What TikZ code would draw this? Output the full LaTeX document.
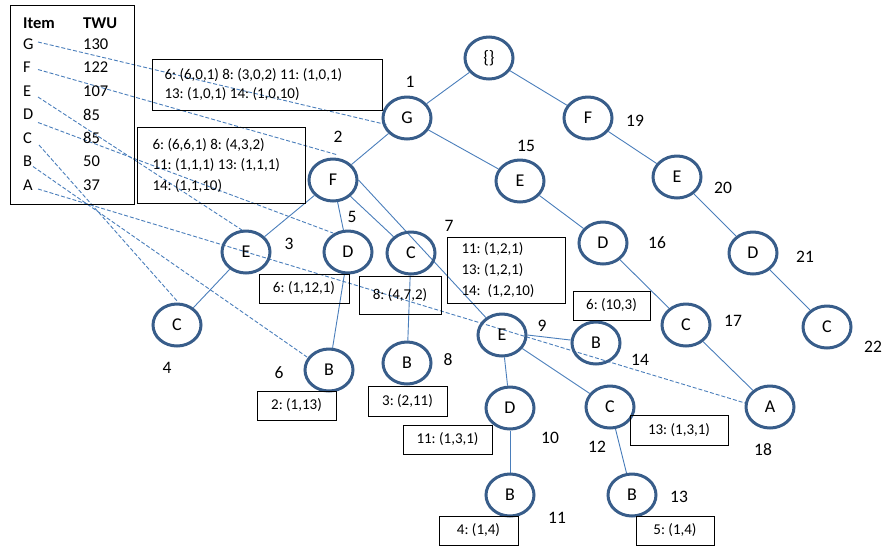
\documentclass[tikz,border=0pt]{standalone}
\usepackage{fontspec}
\setmainfont{Carlito}
\usetikzlibrary{shapes.geometric,calc,backgrounds}
\definecolor{circblue}{HTML}{385D8A}
\definecolor{lineblue}{HTML}{4A7EBB}
\begin{document}
\frenchspacing
\begin{tikzpicture}[x=1pt,y=-1pt,
  every node/.append style={execute at begin node={\frenchspacing\spaceskip=3.4pt plus 1pt minus 0.5pt\relax}},
  tn/.style={ellipse,draw=circblue,line width=3pt,minimum width=48pt,minimum height=42pt,inner sep=0pt,font=\fontsize{18}{20}\selectfont},
  num/.style={font=\fontsize{17.5}{20}\selectfont,inner sep=0pt},
  lbox/.style={draw=black,line width=1pt,font=\fontsize{15}{19}\selectfont,inner ysep=0pt,inner xsep=0pt},
  mbox/.style={draw=black,line width=1pt,align=left,anchor=north west,inner ysep=0pt},
  edge/.style={draw=lineblue,line width=0.9pt},
  link/.style={draw=lineblue,line width=0.9pt,dash pattern=on 4pt off 2pt},
  tab/.style={font=\fontsize{16.5}{19}\selectfont,inner sep=0pt,anchor=west}]
\useasboundingbox (0,0) rectangle (883,550);

% table
\node[draw=black,line width=1pt,minimum width=124pt,minimum height=199pt,anchor=north west,inner sep=0pt] (tbl) at (10,5) {};
\node[tab,font=\fontsize{16.5}{19}\selectfont\bfseries] (hI) at (23,23) {Item};
\node[tab,font=\fontsize{16.5}{19}\selectfont\bfseries] (hT) at (83,23) {TWU};
\node[tab] (iG) at (23,44) {G};   \node[tab] (vG) at (83,44) {130};
\node[tab] (iF) at (23,67.5) {F}; \node[tab] (vF) at (83,67.5) {122};
\node[tab] (iE) at (23,91) {E};   \node[tab] (vE) at (83,91) {107};
\node[tab] (iD) at (23,114.5) {D};\node[tab] (vD) at (83,114.5) {85};
\node[tab] (iC) at (23,138) {C};  \node[tab] (vC) at (83,138) {85};
\node[tab] (iB) at (23,161.5) {B};\node[tab] (vB) at (83,161.5) {50};
\node[tab] (iA) at (23,185) {A};  \node[tab] (vA) at (83,185) {37};

% tree nodes
\node[tn] (n0) at (489,58) {\{\}};
\node[tn] (n1) at (407,118) {G};
\node[tn] (n2) at (333,180) {F};
\node[tn] (n3) at (246,252) {E};
\node[tn] (n4) at (177,325) {C};
\node[tn] (n5) at (348,252) {D};
\node[tn] (n6) at (329,370) {B};
\node[tn] (n7) at (411,253) {C};
\node[tn] (n8) at (407,363) {B};
\node[tn] (n9) at (502,335) {E};
\node[tn] (n10) at (510,408) {D};
\node[tn] (n11) at (510,495) {B};
\node[tn] (n12) at (610,407) {C};
\node[tn] (n13) at (632,495) {B};
\node[tn] (n14) at (596,343) {B};
\node[tn] (n15) at (520,181) {E};
\node[tn] (n16) at (603,243) {D};
\node[tn] (n17) at (686,325) {C};
\node[tn] (n18) at (770,407) {A};
\node[tn] (n19) at (588,118) {F};
\node[tn] (n20) at (677,177) {E};
\node[tn] (n21) at (753,253) {D};
\node[tn] (n22) at (827,327) {C};

% number labels
\node[num] (l1) at (410,82) {1};
\node[num] (l2) at (338,137) {2};
\node[num] (l3) at (289,244) {3};
\node[num] (l4) at (167,368) {4};
\node[num] (l5) at (352,217) {5};
\node[num] (l6) at (279,373) {6};
\node[num] (l7) at (449,226) {7};
\node[num] (l8) at (448,360) {8};
\node[num] (l9) at (542,326) {9};
\node[num] (l10) at (550,438) {10};
\node[num] (l11) at (557,518) {11};
\node[num] (l12) at (597,447) {12};
\node[num] (l13) at (679,497) {13};
\node[num] (l14) at (640,360) {14};
\node[num] (l15) at (526,146) {15};
\node[num] (l16) at (657,243) {16};
\node[num] (l17) at (733,321) {17};
\node[num] (l18) at (763,450) {18};
\node[num] (l19) at (635,121) {19};
\node[num] (l20) at (723,188) {20};
\node[num] (l21) at (805,257) {21};
\node[num] (l22) at (873,347) {22};

% boxes
\node[mbox,font=\fontsize{15}{19}\selectfont,inner xsep=12pt,text width=206pt,minimum height=51pt] (b1) at (152,59)
  {6: (6,0,1) 8: (3,0,2) 11: (1,0,1)\\13: (1,0,1) 14: (1,0,10)};
\node[mbox,font=\fontsize{15}{20.5}\selectfont,inner xsep=15pt,text width=138pt,minimum height=76pt] (b2) at (137,127)
  {6: (6,6,1) 8: (4,3,2)\\11: (1,1,1) 13: (1,1,1)\\14: (1,1,10)};
\node[mbox,font=\fontsize{15}{21}\selectfont,inner xsep=14pt,text width=90pt,minimum height=66pt] (b7) at (447,237)
  {11: (1,2,1)\\13: (1,2,1)\\14:\ \ (1,2,10)};
\node[lbox,minimum width=90pt,minimum height=29pt] (b5) at (304,288.5) {6: (1,12,1)};
\node[lbox,minimum width=82pt,minimum height=38pt] (b7b) at (400,295) {8: (4,7,2)};
\node[lbox,minimum width=79pt,minimum height=29pt] (b6) at (296.5,405.5) {2: (1,13)};
\node[lbox,minimum width=79pt,minimum height=30pt] (b8) at (407.5,401) {3: (2,11)};
\node[lbox,minimum width=89pt,minimum height=29pt] (b10) at (447.5,439.5) {11: (1,3,1)};
\node[lbox,minimum width=98pt,minimum height=30pt] (b12) at (679,430) {13: (1,3,1)};
\node[lbox,minimum width=79pt,minimum height=29pt] (b11) at (478.5,530.5) {4: (1,4)};
\node[lbox,minimum width=78pt,minimum height=29pt] (b13) at (675,530.5) {5: (1,4)};
\node[lbox,minimum width=77pt,minimum height=29pt] (b14) at (611.5,305.5) {6: (10,3)};

\begin{scope}[on background layer]
% tree edges
\draw[edge] (n0) -- (n1);
\draw[edge] (n0) -- (n19);
\draw[edge] (n1) -- (n2);
\draw[edge] (n1) -- (n15);
\draw[edge] (n2) -- (n3);
\draw[edge] (n2) -- (n5);
\draw[edge] (n2) -- (n7);
\draw[edge] (n2.east) -- (n9);
\draw[edge] (n3) -- (n4);
\draw[edge] (n5) -- (n6);
\draw[edge] (n7) -- (n8);
\draw[edge] (n9) -- (n10);
\draw[edge] (n9) -- (n12);
\draw[edge] (n9.east) -- (n14);
\draw[edge] (n10) -- (n11);
\draw[edge] (n12) -- (n13);
\draw[edge] (n15) -- (n16);
\draw[edge] (n16) -- (n17);
\draw[edge] (n17) -- (n18);
\draw[edge] (n19) -- (n20);
\draw[edge] (n20) -- (n21);
\draw[edge] (n21) -- (n22);
% item links
\draw[link] ([shift={(15,-2)}]iG.west) -- ([shift={(-19,7)}]n1.center);
\draw[link] ([shift={(15,2)}]iF.west) -- ([shift={(5,-25)}]n2.center);
\draw[link] ([shift={(15,6)}]iE.west) -- ([shift={(-1,-20)}]n3.center);
\draw[link] ([shift={(15,8)}]iD.west) -- ([shift={(-15,-19)}]n5.center);
\draw[link] ([shift={(16,7)}]iC.west) -- ([shift={(1,-23)}]n4.center);
\draw[link] ([shift={(10,5)}]iB.west) -- ([shift={(-22,-13)}]n6.center);
\draw[link] ([shift={(15,4)}]iA.west) -- ([shift={(-25,-4)}]n18.center);
\end{scope}
\end{tikzpicture}
\end{document}
